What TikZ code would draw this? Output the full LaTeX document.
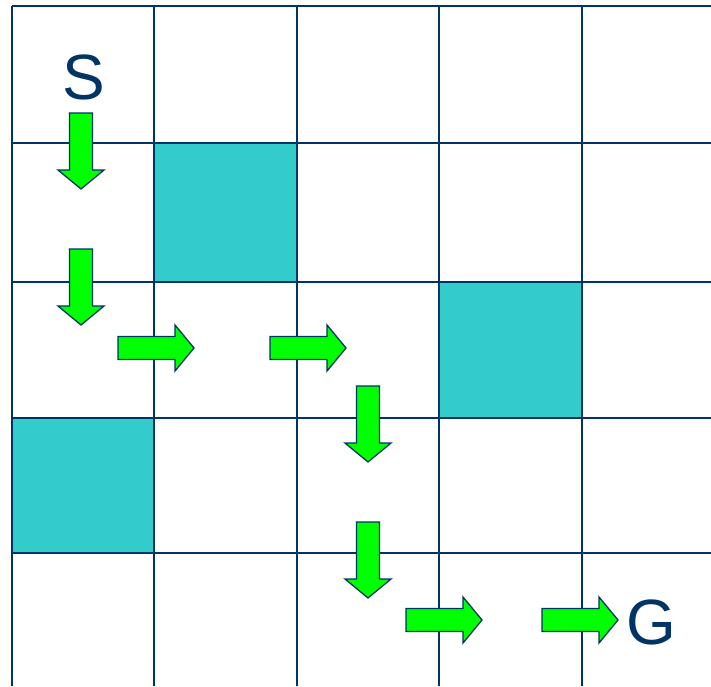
\documentclass[tikz,border=0pt]{standalone}
\usepackage{fontspec}
\setmainfont{Liberation Sans}
\usepackage{tikz}
\usetikzlibrary{arrows.meta}

\definecolor{gridblue}{RGB}{0,51,102}
\definecolor{wallteal}{RGB}{51,204,204}
\definecolor{movegreen}{RGB}{0,255,0}

\begin{document}
\begin{tikzpicture}[x=1pt, y=-1pt,
    gridline/.style={gridblue, line width=2.5pt},
    wall/.style={fill=wallteal},
    movearrow/.style={fill=movegreen, draw=gridblue, line width=1.3pt, line join=miter},
    goal/.style={gridblue, font=\fontsize{64}{70}\selectfont, inner sep=0pt},
    stepmove/.pic={
      \draw[movearrow] (0,-11.5) -- (57,-11.5) -- (57,-23) -- (76,0)
        -- (57,23) -- (57,11.5) -- (0,11.5) -- cycle;
    }]
  \useasboundingbox (0,0) rectangle (711,686);

  % Blocked cells
  \fill[wall] (154,143) rectangle (297,282);
  \fill[wall] (439,282) rectangle (582,418);
  \fill[wall] (12,418) rectangle (154,553);

  % Grid
  \foreach \gx in {12,154,297,439,582}
    \draw[gridline] (\gx,6) -- (\gx,686);
  \foreach \gy in {6,143,282,418,553}
    \draw[gridline] (12,\gy) -- (711,\gy);

  % Start and goal
  \node[goal] (S) at (83.5,77) {S};
  \node[goal] (G) at (651,622) {G};

  % Path
  \pic[rotate=-90] (m1) at (81,113) {stepmove};
  \pic[rotate=-90] (m2) at (81,249) {stepmove};
  \pic (m3) at (118,348) {stepmove};
  \pic (m4) at (270,348) {stepmove};
  \pic[rotate=-90] (m5) at (368,386) {stepmove};
  \pic[rotate=-90] (m6) at (368,522) {stepmove};
  \pic (m7) at (406,620) {stepmove};
  \pic (m8) at (542,620) {stepmove};
\end{tikzpicture}
\end{document}
